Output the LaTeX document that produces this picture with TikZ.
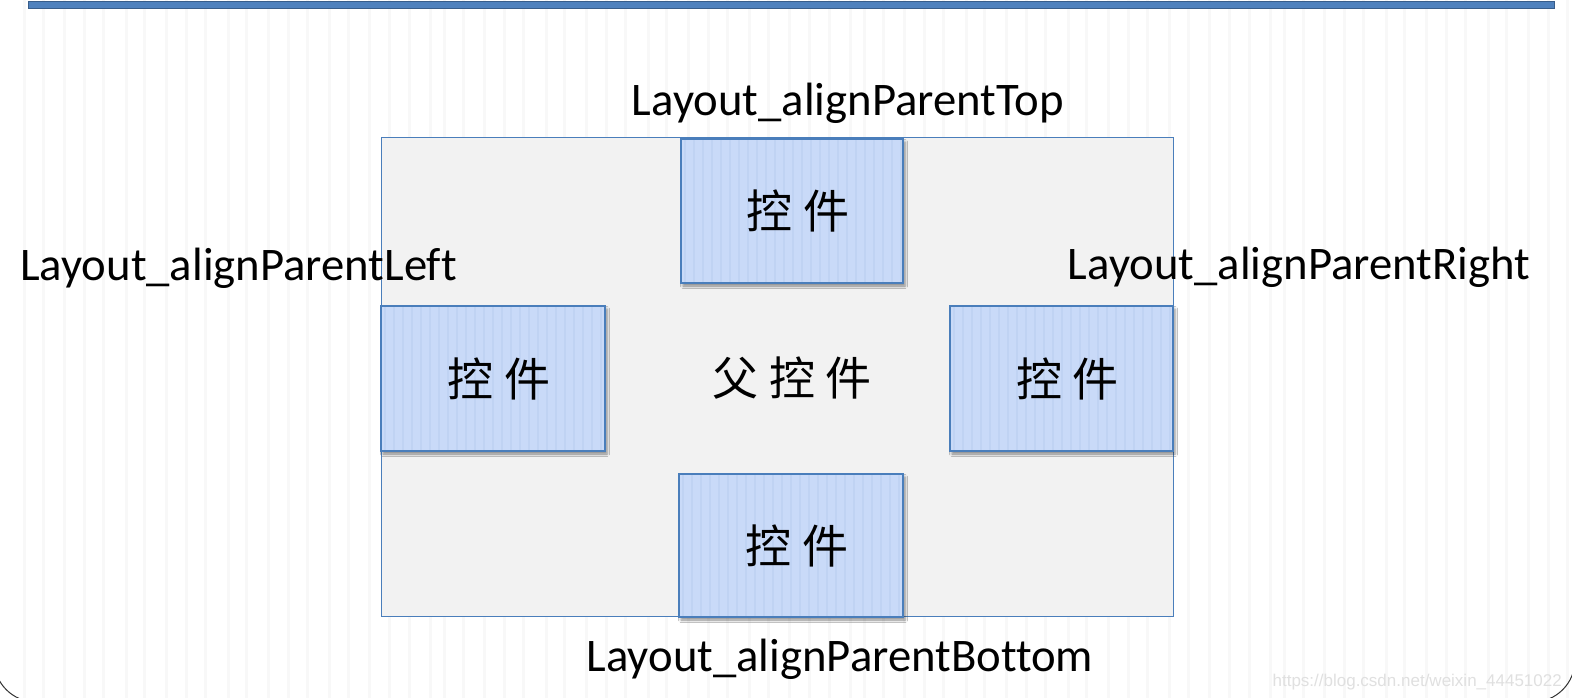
\documentclass[tikz,border=0pt]{standalone}
\usepackage{fontspec}
\setmainfont[Ligatures=NoCommon]{Carlito}
\newfontfamily\cjk{Noto Sans CJK SC}
\newfontfamily\wmfont{Liberation Sans}
\usetikzlibrary{shadows.blur}
\definecolor{barblue}{HTML}{4F81BD}
\definecolor{bardark}{HTML}{385D8A}
\definecolor{edgeblue}{HTML}{4A7EBB}
\definecolor{boxfill}{HTML}{C9DAF8}
\definecolor{boxstripe}{HTML}{C0D3F3}
\definecolor{parentfill}{HTML}{F2F2F2}
\definecolor{bgstripe}{HTML}{F8F8F8}
\tikzset{
  parentbox/.style={draw=edgeblue, line width=1pt, fill=parentfill, inner sep=0pt},
  ctrlbox/.style={draw=edgeblue, line width=1.2pt, fill=boxfill, inner sep=0pt,
    minimum width=223pt, minimum height=145pt,
    blur shadow={shadow xshift=2pt, shadow yshift=-3pt, shadow blur radius=2.5pt, shadow opacity=45},
    font=\cjk\fontsize{46}{50}\selectfont,
    path picture={\foreach \i in {4,13,...,222}
      \draw[boxstripe, line width=1.3pt] ([xshift=\i pt]path picture bounding box.south west) -- ([xshift=\i pt]path picture bounding box.north west);}},
  lbl/.style={inner sep=0pt, anchor=base, font=\fontsize{46.7}{50}\selectfont},
  cjklbl/.style={inner sep=0pt, font=\cjk\fontsize{46}{50}\selectfont},
}
\newcommand{\ctrltext}{\hspace*{12pt}控 件}
\begin{document}
\begin{tikzpicture}[x=1pt, y=-1pt]
\useasboundingbox (0,0) rectangle (1572,698);
% background with faint stripes
\fill[white] (0,0) rectangle (1572,698);
\foreach \x in {23,42,63,83,102,125,143,165,185,204,227,245,267,287,306,328,347,368,388,408,429}{
  \foreach \k in {0,420,840,1260}{
    \fill[bgstripe] (\x+\k,0) rectangle (\x+\k+2.5,698);
  }
}
% outer rounded frame
\draw[black!80, line width=1pt, rounded corners=42pt] (-6,-40) rectangle (1575,702);
% top bar
\draw[bardark, fill=barblue, line width=1pt] (28,2) rectangle (1554,9);
% parent
\node[parentbox, minimum width=792pt, minimum height=478pt] (parent) at (777,377) {};
\node[cjklbl] (ptext) at (792,378) {父 控 件};
% controls
\node[ctrlbox, minimum width=222pt, minimum height=144pt] (top) at (792,211) {\ctrltext};
\node[ctrlbox, minimum width=224pt] (left) at (493,378.5) {\ctrltext};
\node[ctrlbox] (right) at (1061.5,378.5) {\ctrltext};
\node[ctrlbox, minimum width=224pt, minimum height=143pt] (bottom) at (791,545.5) {\ctrltext};
% labels
\node[lbl] (ltop) at (848,116) {Layout\_alignParentTop};
\node[lbl] (lleft) at (238.5,280) {Layout\_alignParentLeft};
\node[lbl] (lright) at (1299,279) {Layout\_alignParentRight};
\node[lbl] (lbottom) at (840,671) {Layout\_alignParentBottom};
% watermark
\node[inner sep=0pt, anchor=base east, text=black!12, font=\wmfont\fontsize{17}{19}\selectfont] (wm) at (1562,686) {https://blog.csdn.net/weixin\_44451022};
\end{tikzpicture}
\end{document}
